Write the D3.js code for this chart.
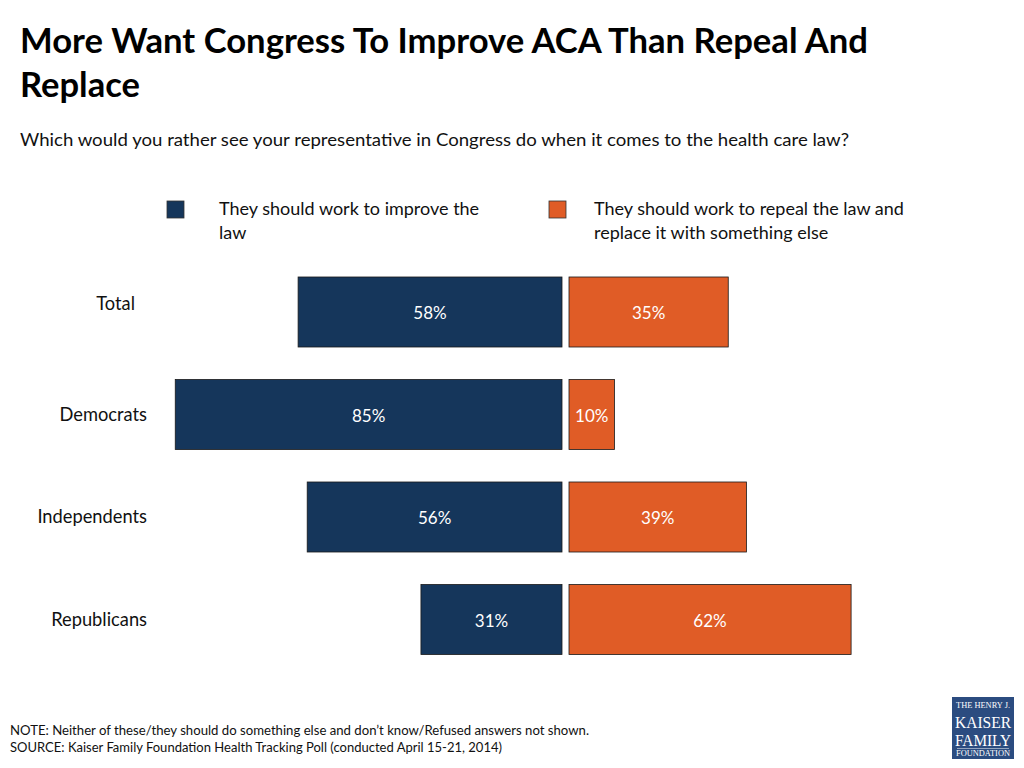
<!DOCTYPE html>
<html>
<head>
<meta charset="utf-8">
<script src="https://cdn.jsdelivr.net/npm/d3@7"></script>
<style>
  body { margin: 0; background: #fff; }
  svg { display: block; font-family: Lato, "Open Sans", sans-serif; }
</style>
</head>
<body>
<svg id="chart" width="1024" height="768"></svg>
<script>
// chart data
var categories = ["Total", "Democrats", "Independents", "Republicans"];
var improveVals = [58, 85, 56, 31];
var repealVals = [35, 10, 39, 62];
var seriesNames = ["They should work to improve the|law", "They should work to repeal the law and|replace it with something else"];
var colors = ["#15365b", "#e05c26"];

var svg = d3.select("#chart");

// title, subtitle
svg.append("text").attr("x", 20).attr("y", 53)
  .attr("font-size", 34).attr("font-weight", "bold").attr("fill", "#000")
  .attr("textLength", 848).attr("lengthAdjust", "spacingAndGlyphs")
  .text("More Want Congress To Improve ACA Than Repeal And");
svg.append("text").attr("x", 20).attr("y", 97)
  .attr("font-size", 34).attr("font-weight", "bold").attr("fill", "#000")
  .attr("textLength", 120).attr("lengthAdjust", "spacingAndGlyphs")
  .text("Replace");
svg.append("text").attr("x", 20).attr("y", 146)
  .attr("font-size", 17).attr("fill", "#111")
  .attr("textLength", 829).attr("lengthAdjust", "spacingAndGlyphs")
  .text("Which would you rather see your representative in Congress do when it comes to the health care law?");

// legend
var legendPos = [{sx: 167, tx: 219, w: 266}, {sx: 549, tx: 594, w: 319}];
seriesNames.forEach(function(name, i) {
  var p = legendPos[i];
  svg.append("rect").attr("x", p.sx).attr("y", 201).attr("width", 17).attr("height", 17)
    .attr("fill", colors[i]).attr("stroke", "#333").attr("stroke-width", 0.8);
  var t = svg.append("text").attr("x", p.tx).attr("y", 215).attr("font-size", 18).attr("fill", "#111");
  name.split("|").forEach(function(line, j) {
    t.append("tspan").attr("x", p.tx).attr("dy", j == 0 ? 0 : 24).text(line);
  });
});

// scales
var x = d3.scaleLinear().domain([0, 100]).range([0, 455]);
var y = d3.scaleBand().domain(categories).range([260.75, 670.75])
  .paddingInner(0.317).paddingOuter(0.1585);
var mid = 562, gap = 7;

var rows = categories.map(function(c, i) {
  return {cat: c, improve: improveVals[i], repeal: repealVals[i]};
});

var g = svg.append("g");

// improve bars (left)
g.selectAll(".imp").data(rows).enter().append("rect")
  .attr("class", "imp")
  .attr("x", function(d) { return mid - x(d.improve); })
  .attr("y", function(d) { return y(d.cat); })
  .attr("width", function(d) { return x(d.improve); })
  .attr("height", y.bandwidth())
  .attr("fill", colors[0]).attr("stroke", "#1a1a1a").attr("stroke-width", 0.8);

// repeal bars (right)
g.selectAll(".rep").data(rows).enter().append("rect")
  .attr("class", "rep")
  .attr("x", mid + gap)
  .attr("y", function(d) { return y(d.cat); })
  .attr("width", function(d) { return x(d.repeal); })
  .attr("height", y.bandwidth())
  .attr("fill", colors[1]).attr("stroke", "#1a1a1a").attr("stroke-width", 0.8);

// value labels
g.selectAll(".impLbl").data(rows).enter().append("text")
  .attr("x", function(d) { return mid - x(d.improve) / 2; })
  .attr("y", function(d) { return y(d.cat) + y.bandwidth() / 2 + 7; })
  .attr("text-anchor", "middle").attr("font-size", 17).attr("fill", "#fff")
  .text(function(d) { return d.improve + "%"; });
g.selectAll(".repLbl").data(rows).enter().append("text")
  .attr("x", function(d) { return mid + gap + x(d.repeal) / 2; })
  .attr("y", function(d) { return y(d.cat) + y.bandwidth() / 2 + 7; })
  .attr("text-anchor", "middle").attr("font-size", 17).attr("fill", "#fff")
  .text(function(d) { return d.repeal + "%"; });

// category labels
g.selectAll(".cat").data(rows).enter().append("text")
  .attr("x", function(d, i) { return i == 0 ? 135 : 147; })
  .attr("y", function(d, i) { return y(d.cat) + y.bandwidth() / 2 + (i == 0 ? -2 : 6); })
  .attr("text-anchor", "end").attr("font-size", 18.3).attr("fill", "#111")
  .text(function(d) { return d.cat; });

// footnotes
svg.append("text").attr("x", 10).attr("y", 735).attr("font-size", 12.5).attr("fill", "#111")
  .attr("textLength", 579).attr("lengthAdjust", "spacingAndGlyphs")
  .text("NOTE: Neither of these/they should do something else and don\u2019t know/Refused answers not shown.");
svg.append("text").attr("x", 10).attr("y", 752).attr("font-size", 12.5).attr("fill", "#111")
  .attr("textLength", 492).attr("lengthAdjust", "spacingAndGlyphs")
  .text("SOURCE: Kaiser Family Foundation Health Tracking Poll (conducted April 15-21, 2014)");

// logo
var logo = svg.append("g").attr("transform", "translate(952,697)");
logo.append("rect").attr("width", 62).attr("height", 62).attr("fill", "#2b4c80");
var logoLines = [
  {t: "THE HENRY J.", y: 11, s: 7.5, w: 54},
  {t: "KAISER", y: 31, s: 17, w: 56},
  {t: "FAMILY", y: 49, s: 17, w: 56},
  {t: "FOUNDATION", y: 59, s: 7.5, w: 54}
];
logoLines.forEach(function(l) {
  logo.append("text").attr("x", 31).attr("y", l.y).attr("text-anchor", "middle")
    .attr("font-family", "'Liberation Serif', 'DejaVu Serif', serif")
    .attr("font-size", l.s).attr("fill", "#fff")
    .attr("textLength", l.w).attr("lengthAdjust", "spacingAndGlyphs")
    .text(l.t);
});
logo.append("line").attr("x1", 5).attr("x2", 57).attr("y1", 51.5).attr("y2", 51.5)
  .attr("stroke", "#fff").attr("stroke-width", 0.5);
</script>
</body>
</html>
